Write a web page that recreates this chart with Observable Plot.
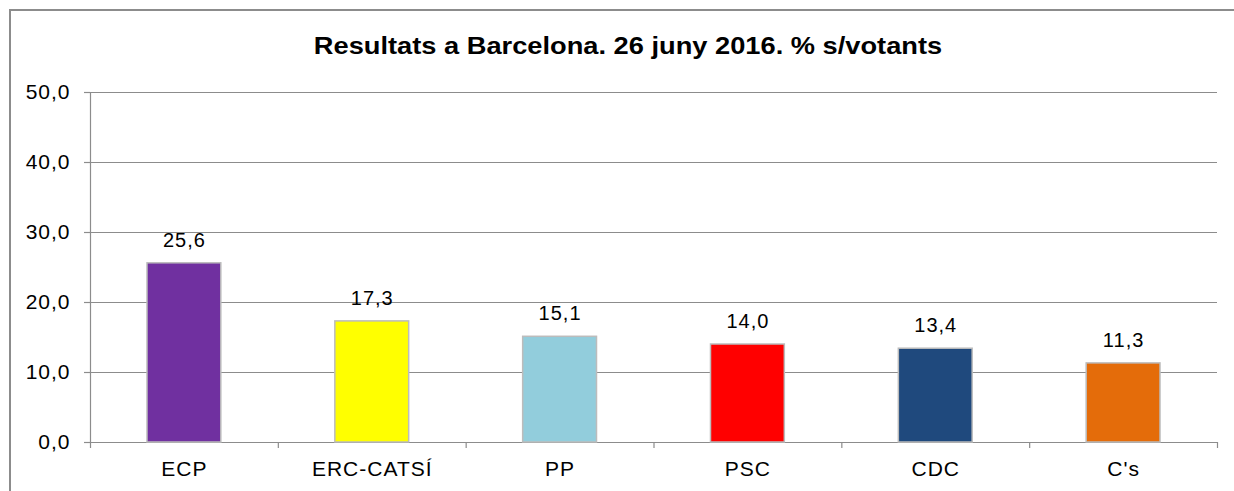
<!DOCTYPE html>
<html>
<head>
<meta charset="utf-8">
<script src="https://cdn.jsdelivr.net/npm/d3@7"></script>
<script src="https://cdn.jsdelivr.net/npm/@observablehq/plot@0.6"></script>
<style>
  html, body { margin: 0; padding: 0; background: #fff; overflow: hidden; }
  #wrap { position: relative; width: 1234px; height: 491px; font-family: "Liberation Sans", Arial, sans-serif; }
  #frame { position: absolute; left: 9px; top: 9px; width: 1300px; height: 600px; border: 2px solid #8c8c8c; box-sizing: border-box; }
  #title { position: absolute; left: 0; width: 1256px; top: 32px; text-align: center; font-weight: bold; font-size: 24px; line-height: 28px; color: #000; transform: scaleX(1.135); transform-origin: 628px 50%; }
  #chart { position: absolute; left: 0; top: 0; }
  #chart svg text { letter-spacing: 1px; }
</style>
</head>
<body>
<div id="wrap">
  <div id="frame"></div>
  <div id="chart"></div>
  <div id="title">Resultats a Barcelona. 26 juny 2016. % s/votants</div>
</div>
<script>
const categories = ["ECP", "ERC-CATSÍ", "PP", "PSC", "CDC", "C's"];
const values = [25.6, 17.3, 15.1, 14.0, 13.4, 11.3];
const colors = ["#7030A0", "#FFFF00", "#92CDDC", "#FF0000", "#1F497D", "#E46C0A"];
const yTicks = [0, 10, 20, 30, 40, 50];

const data = categories.map((c, i) => ({party: c, value: values[i], color: colors[i]}));
const fmt = v => v.toFixed(1).replace(".", ",");

const W = 1234, H = 491, mL = 90, mR = 17, mT = 92, mB = 49;
const bw = (W - mL - mR) / categories.length;
const grey = "#8c8c8c";

const chart = Plot.plot({
  width: W, height: H,
  marginLeft: mL, marginRight: mR, marginTop: mT, marginBottom: mB,
  style: {fontFamily: "'Liberation Sans', Arial, sans-serif", fontSize: "20px", color: "#000", background: "transparent"},
  x: {domain: categories, padding: 0, round: false, label: null},
  y: {domain: [0, 50], label: null},
  marks: [
    Plot.ruleY(yTicks, {y: d => d, stroke: grey, strokeWidth: 1.2}),
    Plot.ruleX([categories[0]], {x: d => d, dx: -bw / 2, y1: 0, y2: 50, stroke: grey, strokeWidth: 1.2}),
    Plot.ruleX(categories, {x: d => d, dx: -bw / 2, y1: 0, y2: -6 / 7, stroke: grey, strokeWidth: 1.2}),
    Plot.ruleX([categories[categories.length - 1]], {x: d => d, dx: bw / 2, y1: 0, y2: -6 / 7, stroke: grey, strokeWidth: 1.2}),
    Plot.barY(data, {x: "party", y: "value", fill: "color", stroke: "#bcbcbc", strokeWidth: 1.5, insetLeft: 57, insetRight: 57}),
    Plot.text(data, {x: "party", y: "value", text: d => fmt(d.value), dy: -23, fill: "#000", fontSize: 20}),
    Plot.axisY(yTicks, {tickSize: 6, tickPadding: 14, tickFormat: fmt, fontSize: 21, stroke: grey, strokeWidth: 1.2}),
    Plot.axisX({tickSize: 0, tickPadding: 19, fontSize: 21})
  ]
});
document.getElementById("chart").appendChild(chart);
</script>
</body>
</html>
